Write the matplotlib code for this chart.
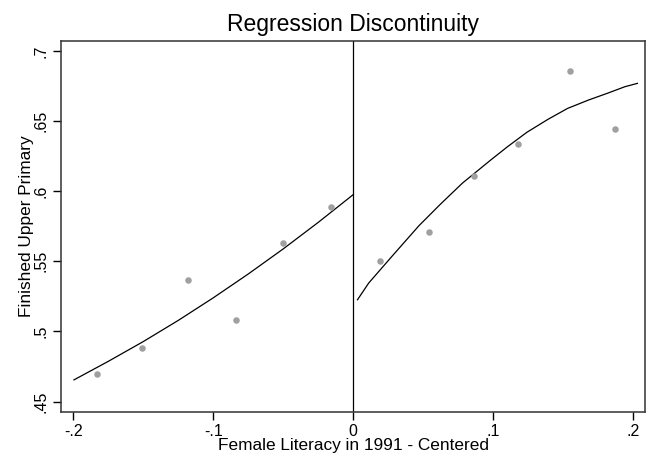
import matplotlib.pyplot as plt

plt.rcParams['font.family'] = ['Liberation Sans', 'DejaVu Sans']

# binned means (scatter)
x_left = [-0.183, -0.151, -0.118, -0.084, -0.050, -0.016]
y_left = [0.470, 0.488, 0.537, 0.508, 0.563, 0.589]
x_right = [0.019, 0.054, 0.086, 0.118, 0.155, 0.187]
y_right = [0.550, 0.571, 0.611, 0.634, 0.686, 0.644]

# fitted curves
fit_x_left = [-0.1995, -0.175, -0.150, -0.125, -0.100, -0.075, -0.050, -0.025, 0.0]
fit_y_left = [0.4655, 0.4787, 0.4928, 0.5079, 0.5240, 0.5410, 0.5589, 0.5778, 0.5976]
fit_x_right = [0.003, 0.011, 0.028, 0.047, 0.062, 0.078, 0.098, 0.110, 0.124,
               0.139, 0.153, 0.168, 0.182, 0.194, 0.203]
fit_y_right = [0.5226, 0.5345, 0.5540, 0.5755, 0.5905, 0.6058, 0.6221, 0.6316, 0.6420,
               0.6512, 0.6590, 0.6650, 0.6700, 0.6745, 0.6769]

xticks = [-0.2, -0.1, 0, 0.1, 0.2]
xtick_labels = ['-.2', '-.1', '0', '.1', '.2']
yticks = [0.45, 0.5, 0.55, 0.6, 0.65, 0.7]
ytick_labels = ['.45', '.5', '.55', '.6', '.65', '.7']

fig = plt.figure(figsize=(6.57, 4.57), dpi=100)
ax = fig.add_axes([0.093, 0.0985, 0.889, 0.8118])

ax.scatter(x_left, y_left, s=22, color='#a0a0a0', zorder=3, linewidths=0)
ax.scatter(x_right, y_right, s=22, color='#a0a0a0', zorder=3, linewidths=0)
ax.plot(fit_x_left, fit_y_left, color='black', lw=0.9)
ax.plot(fit_x_right, fit_y_right, color='black', lw=0.9)
ax.axvline(0, color='black', lw=0.9)

ax.set_xlim(-0.2087, 0.2085)
ax.set_ylim(0.4426, 0.7071)

ax.set_xticks(xticks)
ax.set_xticklabels(xtick_labels)
ax.set_yticks(yticks)
ax.set_yticklabels(ytick_labels, rotation=90, va='center')
ax.tick_params(direction='out', length=6, width=1, labelsize=11.5, pad=3)

for s in ax.spines.values():
    s.set_color('#333333')
    s.set_linewidth(1.1)

ax.set_title('Regression Discontinuity', fontsize=16.5, pad=7)
ax.set_xlabel('Female Literacy in 1991 - Centered', fontsize=12.4, labelpad=-1)
ax.set_ylabel('Finished Upper Primary', fontsize=12.4, labelpad=0)

fig.savefig('out.png', dpi=100)
